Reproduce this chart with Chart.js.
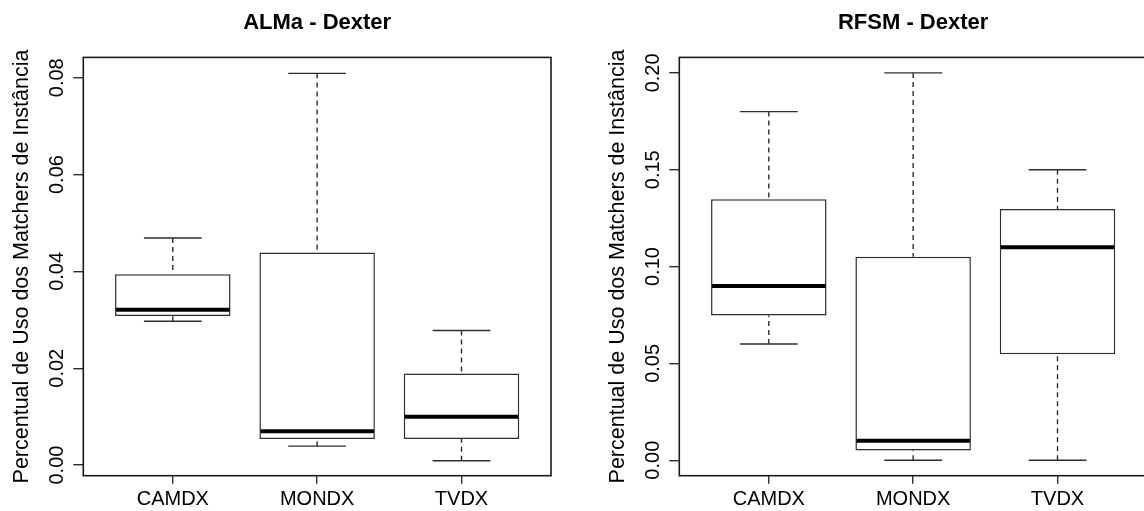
<!DOCTYPE html>
<html>
<head>
<meta charset="utf-8">
<script src="https://cdn.jsdelivr.net/npm/chart.js@4"></script>
<style>
  html, body { margin: 0; padding: 0; background: #fff; overflow: hidden; width: 1144px; height: 511px; }
  canvas { position: absolute; top: 0; }
  #almaChart { left: 0; }
  #rfsmChart { left: 596px; }
</style>
</head>
<body>
<canvas id="almaChart" width="572" height="511"></canvas>
<canvas id="rfsmChart" width="572" height="511"></canvas>
<script>
// --- Data ---
const categories = ['CAMDX', 'MONDX', 'TVDX'];

const almaMin = [0.0297, 0.0039, 0.0009];
const almaQ1 = [0.0308, 0.0054, 0.0054];
const almaMed = [0.0321, 0.0070, 0.0100];
const almaQ3 = [0.0394, 0.0439, 0.0189];
const almaMax = [0.0469, 0.0809, 0.0278];
const almaYTicks = [0, 0.02, 0.04, 0.06, 0.08];

const rfsmMin = [0.060, 0.000, 0.000];
const rfsmQ1 = [0.0747, 0.0050, 0.0547];
const rfsmMed = [0.090, 0.0100, 0.110];
const rfsmQ3 = [0.1347, 0.1050, 0.1297];
const rfsmMax = [0.180, 0.200, 0.150];
const rfsmYTicks = [0, 0.05, 0.10, 0.15, 0.20];

const FONT = "'Liberation Sans', Arial, Helvetica, sans-serif";
const LINE = '#2e2e2e';

// Whiskers, caps and medians drawn from the chart's own scales
const boxExtrasPlugin = {
  id: 'boxExtras',
  afterDatasetsDraw(chart) {
    const s = chart.data.datasets[0].stats;
    if (!s) return;
    const { ctx } = chart;
    const xs = chart.scales.x, ys = chart.scales.y;
    const meta = chart.getDatasetMeta(0);
    ctx.save();
    categories.forEach((_, i) => {
      const cx = xs.getPixelForValue(i + 1);
      const hw = (meta.data[i].width || 116) / 2;
      const yMin = ys.getPixelForValue(s.min[i]);
      const yQ1 = ys.getPixelForValue(s.q1[i]);
      const yMed = ys.getPixelForValue(s.med[i]);
      const yQ3 = ys.getPixelForValue(s.q3[i]);
      const yMax = ys.getPixelForValue(s.max[i]);
      // dashed whiskers
      ctx.strokeStyle = LINE;
      ctx.lineWidth = 1.4;
      ctx.setLineDash([5, 4]);
      ctx.beginPath();
      ctx.moveTo(cx, yMax);
      ctx.lineTo(cx, yQ3);
      ctx.moveTo(cx, yMin);
      ctx.lineTo(cx, yQ1);
      ctx.stroke();
      // caps
      ctx.setLineDash([]);
      ctx.beginPath();
      ctx.moveTo(cx - hw / 2, yMax);
      ctx.lineTo(cx + hw / 2, yMax);
      ctx.moveTo(cx - hw / 2, yMin);
      ctx.lineTo(cx + hw / 2, yMin);
      ctx.stroke();
      // median
      ctx.strokeStyle = '#000';
      ctx.lineWidth = 4;
      ctx.lineCap = 'butt';
      ctx.beginPath();
      ctx.moveTo(cx - hw + 1, yMed);
      ctx.lineTo(cx + hw - 1, yMed);
      ctx.stroke();
    });
    ctx.restore();
  },
  afterDraw(chart) {
    const { ctx, chartArea } = chart;
    const ys = chart.scales.y;
    ctx.save();
    // frame around the plot region
    ctx.strokeStyle = '#1a1a1a';
    ctx.lineWidth = 1.6;
    ctx.strokeRect(chartArea.left, chartArea.top, chartArea.right - chartArea.left, chartArea.bottom - chartArea.top);
    // rotated y tick labels (R style)
    ctx.fillStyle = '#000';
    ctx.font = '20px ' + FONT;
    ctx.textAlign = 'center';
    ctx.textBaseline = 'alphabetic';
    ys.ticks.forEach((t) => {
      ctx.save();
      ctx.translate(chartArea.left - 20, ys.getPixelForValue(t.value));
      ctx.rotate(-Math.PI / 2);
      ctx.fillText(t.value.toFixed(2), 0, 0);
      ctx.restore();
    });
    ctx.restore();
  },
};

function makeBoxChart(id, title, mins, q1s, meds, q3s, maxs, yTicks, yLo, yHi) {
  return new Chart(document.getElementById(id), {
    type: 'bar',
    data: {
      datasets: [{
        data: categories.map((c, i) => ({ x: i + 1, y: [q1s[i], q3s[i]] })),
        stats: { min: mins, q1: q1s, med: meds, q3: q3s, max: maxs },
        backgroundColor: '#fff',
        borderColor: LINE,
        borderWidth: 1.5,
        borderSkipped: false,
        barPercentage: 0.8,
        categoryPercentage: 1,
      }],
    },
    plugins: [boxExtrasPlugin],
    options: {
      responsive: false,
      animation: false,
      events: [],
      layout: { padding: { left: 0, right: 21, top: 0, bottom: 0 } },
      plugins: {
        legend: { display: false },
        tooltip: { enabled: false },
        title: {
          display: true,
          text: title,
          fullSize: false,
          color: '#000',
          font: { family: FONT, size: 22, weight: 'bold', lineHeight: 1.2 },
          padding: { top: 10, bottom: 21 },
        },
      },
      scales: {
        x: {
          type: 'linear',
          min: 0.38,
          max: 3.62,
          offset: false,
          afterBuildTicks: (scale) => {
            scale.ticks = categories.map((c, i) => ({ value: i + 1 }));
          },
          afterFit: (scale) => { scale.height = 35.3; },
          ticks: {
            autoSkip: false,
            maxRotation: 0,
            padding: 4,
            color: '#000',
            font: { family: FONT, size: 20 },
            callback: (v) => categories[v - 1],
          },
          grid: { offset: false, drawOnChartArea: false, drawTicks: true, tickLength: 8, color: LINE, lineWidth: 1.4 },
          border: { display: false },
        },
        y: {
          min: yLo,
          max: yHi,
          afterBuildTicks: (scale) => {
            scale.ticks = yTicks.map((v) => ({ value: v }));
          },
          afterFit: (scale) => { scale.width = 83.3; },
          ticks: { display: false },
          grid: { drawOnChartArea: false, drawTicks: true, tickLength: 10, color: LINE, lineWidth: 1.4 },
          border: { display: false },
          title: {
            display: true,
            text: 'Percentual de Uso dos Matchers de Instância',
            color: '#000',
            font: { family: FONT, size: 21.5, lineHeight: 1.2 },
            padding: { top: 9, bottom: 0 },
          },
        },
      },
    },
  });
}

makeBoxChart('almaChart', 'ALMa - Dexter', almaMin, almaQ1, almaMed, almaQ3, almaMax, almaYTicks, -0.0022, 0.0842);
makeBoxChart('rfsmChart', 'RFSM - Dexter', rfsmMin, rfsmQ1, rfsmMed, rfsmQ3, rfsmMax, rfsmYTicks, -0.008, 0.208);
</script>
</body>
</html>
